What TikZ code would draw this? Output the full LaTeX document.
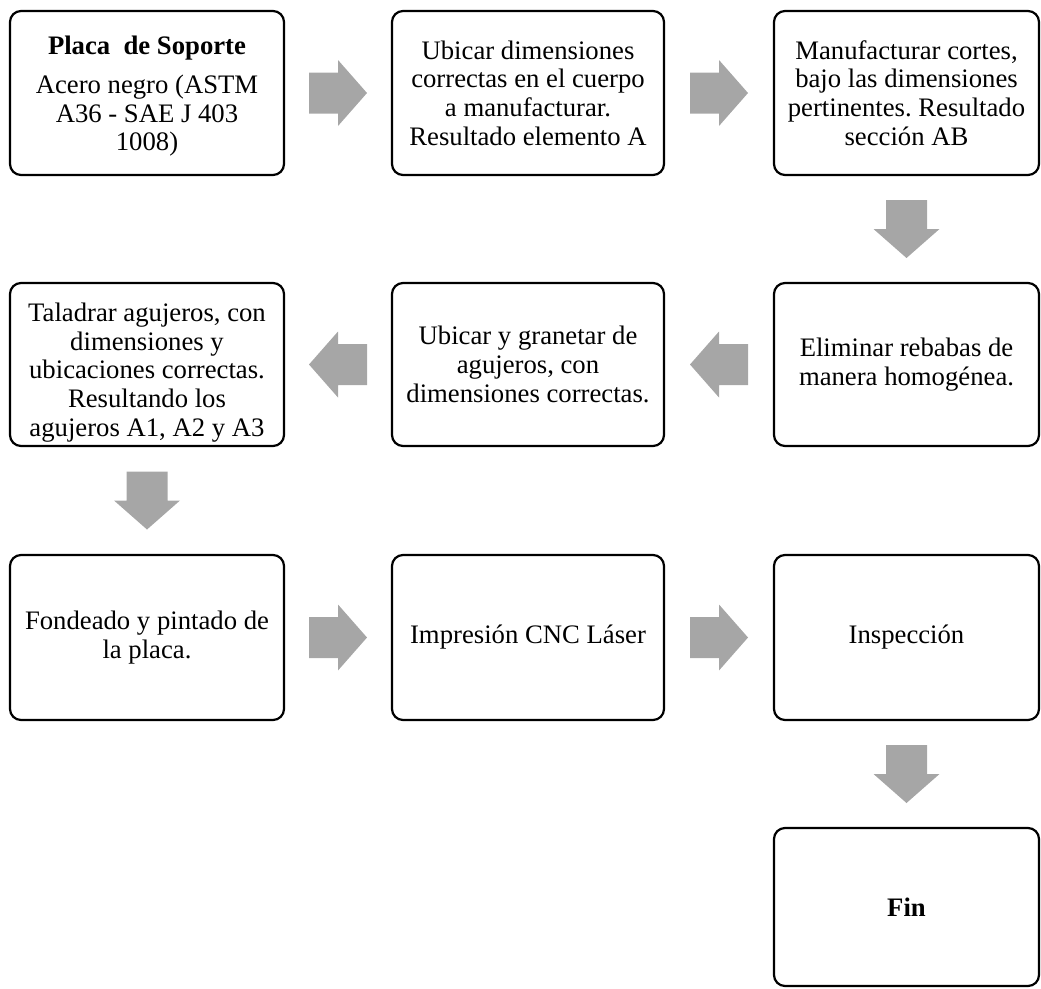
\documentclass[tikz,border=0pt]{standalone}
\usepackage{fontspec}
\setmainfont{Liberation Serif}
\usetikzlibrary{calc}
\frenchspacing
\definecolor{arrowfill}{RGB}{166,166,166}
\tikzset{
  stepbox/.style={draw=black, line width=2.2pt, rounded corners=11pt,
    fill=white, align=center, inner sep=0pt,
    font=\fontsize{26.7}{28.6}\selectfont},
  steptext/.style={align=center, inner sep=0pt,
    font=\fontsize{26.7}{28.6}\selectfont},
  blockarrow/.pic={
    \fill[arrowfill] (-29,-20.5) -- (0,-20.5) -- (0,-33) -- (29,0)
      -- (0,33) -- (0,20.5) -- (-29,20.5) -- cycle;
  }
}
\begin{document}
\begin{tikzpicture}[x=1pt, y=-1pt]
  \useasboundingbox (0,0) rectangle (1041,988);

  % first row
  \node[stepbox, minimum width=274pt, minimum height=164pt] (b1) at (147,93) {};
  \node[steptext] (b1t) at ($(b1.center)+(0,3)$)
    {\textbf{Placa~~de Soporte}\\[11pt]
     Acero negro (ASTM\\ A36 - SAE J 403\\ 1008)};
  \node[stepbox, minimum width=272pt, minimum height=164pt] (b2) at (528,93)
    {Ubicar dimensiones\\ correctas en el cuerpo\\ a manufacturar.\\ Resultado elemento A};
  \node[stepbox, minimum width=265pt, minimum height=164pt] (b3) at (906.5,93)
    {Manufacturar cortes,\\ bajo las dimensiones\\ pertinentes. Resultado\\ sección AB};

  % second row
  \node[stepbox, minimum width=265pt, minimum height=163pt] (b4) at (906.5,364.5)
    {Eliminar rebabas de\\ manera homogénea.};
  \node[stepbox, minimum width=272pt, minimum height=163pt] (b5) at (528,364.5)
    {Ubicar y granetar de\\ agujeros, con\\ dimensiones correctas.};
  \node[stepbox, minimum width=274pt, minimum height=163pt] (b6) at (147,364.5) {};
  \node[steptext] (b6t) at ($(b6.center)+(0,8)$)
    {Taladrar agujeros, con\\ dimensiones y\\ ubicaciones correctas.\\ Resultando los\\ agujeros A1, A2 y A3};

  % third row
  \node[stepbox, minimum width=274pt, minimum height=165pt] (b7) at (147,637.5)
    {Fondeado y pintado de\\ la placa.};
  \node[stepbox, minimum width=272pt, minimum height=165pt] (b8) at (528,637.5)
    {Impresión CNC Láser};
  \node[stepbox, minimum width=265pt, minimum height=165pt] (b9) at (906.5,637.5)
    {Inspección};

  % end
  \node[stepbox, minimum width=265pt, minimum height=158pt] (b10) at (906.5,907)
    {\textbf{Fin}};

  % block arrows between the steps
  \path ($(b1.east)!0.5!(b2.west)$) pic {blockarrow};
  \path ($(b2.east)!0.5!(b3.west)$) pic {blockarrow};
  \path ($(b3.south)!0.5!(b4.north)$) pic[rotate=-90] {blockarrow};
  \path ($(b4.west)!0.5!(b5.east)$) pic[rotate=180] {blockarrow};
  \path ($(b5.west)!0.5!(b6.east)$) pic[rotate=180] {blockarrow};
  \path ($(b6.south)!0.5!(b7.north)$) pic[rotate=-90] {blockarrow};
  \path ($(b7.east)!0.5!(b8.west)$) pic {blockarrow};
  \path ($(b8.east)!0.5!(b9.west)$) pic {blockarrow};
  \path ($(b9.south)!0.5!(b10.north)$) pic[rotate=-90] {blockarrow};
\end{tikzpicture}
\end{document}
